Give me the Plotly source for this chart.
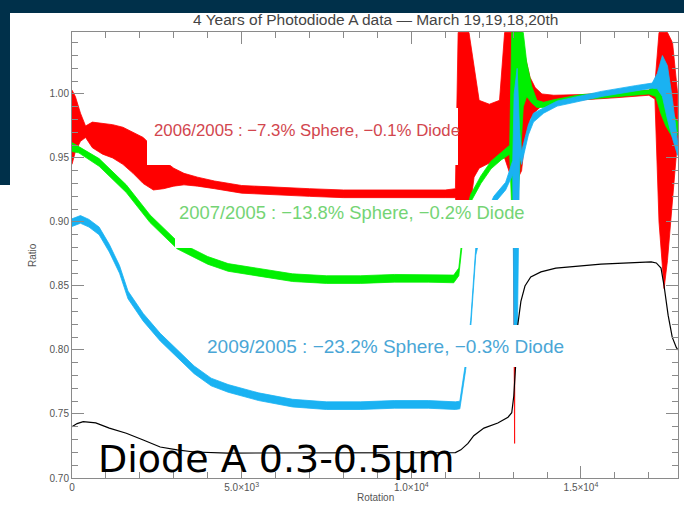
import plotly.graph_objects as go

# ---------------- data ----------------
red_x  = [0, 100, 250, 400, 600, 900, 1200, 1500, 1800, 2100, 2400, 2700, 3000, 3300, 3700, 4200,
          5000, 6000, 7000, 8000, 9000, 10000, 11000, 11300, 11380, 11700, 11850, 12000, 12300,
          12600, 12750, 13000, 13045, 13065, 13250, 13350, 13500, 13650, 13850, 14200, 15000,
          16000, 17000, 17180, 17300, 17450, 17550, 17700, 17850]
red_lo = [0.945, 0.955, 0.963, 0.966, 0.958, 0.953, 0.950, 0.945, 0.938, 0.930, 0.925, 0.926,
          0.928, 0.929, 0.928, 0.926, 0.9225, 0.921, 0.920, 0.919, 0.919, 0.919, 0.919, 0.919,
          0.905, 0.905, 0.935, 0.942, 0.946, 0.950, 0.950, 0.930, 0.727, 0.930, 0.940, 0.965,
          0.980, 0.986, 0.991, 0.994, 0.9955, 0.997, 0.999, 0.996, 0.900, 0.848, 0.870, 0.920, 0.965]
red_hi = [1.003, 0.998, 0.985, 0.975, 0.978, 0.977, 0.976, 0.974, 0.970, 0.966, 0.958, 0.948,
          0.942, 0.938, 0.935, 0.932, 0.9285, 0.927, 0.926, 0.925, 0.925, 0.925, 0.925, 0.926,
          1.048, 1.048, 1.020, 0.995, 0.992, 0.995, 1.048, 1.048, 1.048, 1.048, 1.048, 1.030,
          1.013, 1.005, 1.000, 0.999, 0.9995, 1.001, 1.003, 1.008, 1.048, 1.048, 1.048, 1.040, 1.000]

green_x  = [0, 200, 800, 1600, 2300, 3100, 4000, 4600, 5500, 6500, 7500, 8500, 9500, 10500, 11250,
            11400, 11550, 11750, 12050, 12350, 12650, 12900, 12960, 13150, 13300, 13400, 13550,
            13700, 13900, 14200, 15000, 16000, 17000, 17200, 17350, 17500, 17700, 17850]
green_lo = [0.955, 0.954, 0.9435, 0.923, 0.8995, 0.879, 0.867, 0.8615, 0.8575, 0.8535, 0.852,
            0.852, 0.853, 0.853, 0.8525, 0.858, 0.8945, 0.9155, 0.930, 0.9415, 0.9485, 0.953,
            0.910, 0.920, 0.990, 0.998, 0.993, 0.9895, 0.9895, 0.9915, 0.9955, 0.998, 1.000,
            0.998, 0.985, 0.975, 0.966, 0.968]
green_hi = [0.962, 0.959, 0.9495, 0.929, 0.9055, 0.885, 0.873, 0.8675, 0.8635, 0.8595, 0.858,
            0.858, 0.859, 0.859, 0.8585, 0.864, 0.9005, 0.9215, 0.936, 0.9475, 0.9545, 0.960,
            1.048, 1.048, 1.048, 1.025, 1.006, 0.995, 0.9935, 0.9955, 0.9995, 1.001, 1.003,
            1.006, 1.012, 1.000, 0.985, 0.978]

blue_x  = [0, 250, 500, 800, 1100, 1400, 1650, 2100, 2600, 3100, 3600, 4100, 4600, 5500, 6500,
           7500, 8500, 9500, 10500, 11300, 11430, 11600, 11750, 11900, 12050, 12430, 12780, 12990,
           13030, 13120, 13190, 13250, 13450, 13600, 13900, 14300, 14650, 15600, 16600, 17100,
           17250, 17400, 17550, 17700, 17850]
blue_lo = [0.8965, 0.899, 0.896, 0.890, 0.8765, 0.860, 0.840, 0.8225, 0.807, 0.7945, 0.7815,
           0.772, 0.767, 0.7605, 0.7555, 0.7535, 0.7535, 0.7545, 0.7545, 0.7535, 0.754, 0.784,
           0.817, 0.874, 0.891, 0.914, 0.925, 0.937, 0.800, 0.800, 0.952, 0.945, 0.968, 0.978,
           0.985, 0.9905, 0.9925, 0.998, 1.0025, 1.0045, 1.004, 0.998, 0.980, 0.965, 0.952]
blue_hi = [0.9025, 0.905, 0.902, 0.896, 0.8825, 0.866, 0.846, 0.8285, 0.813, 0.8005, 0.7875,
           0.778, 0.773, 0.7665, 0.7615, 0.7595, 0.7595, 0.7605, 0.7605, 0.7595, 0.760, 0.790,
           0.823, 0.880, 0.897, 0.920, 0.931, 0.948, 1.000, 1.020, 0.972, 0.955, 0.976, 0.985,
           0.989, 0.9945, 0.9965, 1.002, 1.0065, 1.0085, 1.016, 1.030, 1.022, 0.995, 0.962]

diode_x = [0, 150, 330, 700, 1100, 1600, 2100, 2600, 3100, 3600, 4600, 6000, 8000, 10000, 11300,
           11460, 11670, 11840, 12140, 12550, 12850, 12960, 13020, 13080, 13140, 13230, 13350,
           13520, 13820, 14260, 15590, 17070, 17220, 17360, 17450, 17570, 17690, 17810, 17860]
diode_y = [0.740, 0.7425, 0.744, 0.743, 0.739, 0.735, 0.7297, 0.7242, 0.7219, 0.7203, 0.7195,
           0.7195, 0.7195, 0.7197, 0.7198, 0.722, 0.727, 0.733, 0.739, 0.743, 0.7475, 0.751,
           0.764, 0.790, 0.820, 0.838, 0.850, 0.857, 0.861, 0.864, 0.867, 0.8688, 0.868, 0.864,
           0.850, 0.827, 0.810, 0.802, 0.800]

x_tickvals = [0, 5000, 10000, 15000]
x_ticktext = ["0", "5.0×10<sup>3</sup>", "1.0×10<sup>4</sup>", "1.5×10<sup>4</sup>"]

title_text = "4 Years of Photodiode A data — March 19,19,18,20th"
labels = ["2006/2005 : −7.3% Sphere, −0.1% Diode",
          "2007/2005 : −13.8% Sphere, −0.2% Diode",
          "2009/2005 : −23.2% Sphere, −0.3% Diode"]
big_label = "Diode A 0.3-0.5μm"

# ---------------- styling / layout ----------------
W, H = 684, 509
L, R, T, B = 72, 678, 32, 478
XMAX, YMIN, YMAX = 17860, 0.70, 1.0484

def px2x(px): return (px - L) / (R - L) * XMAX
def py2y(py): return YMIN + (B - py) / (B - T) * (YMAX - YMIN)
def px2p(px): return (px - L) / (R - L)
def py2p(py): return (B - py) / (B - T)

RED, GREEN, BLUE = "#ff0000", "#00f000", "#1ab2f2"

fig = go.Figure()

def band(x, lo, hi, color):
    fig.add_trace(go.Scatter(x=list(x) + list(x)[::-1], y=list(hi) + list(lo)[::-1],
                             mode="lines", fill="toself", fillcolor=color,
                             line=dict(color=color, width=0.8), hoverinfo="skip"))

band(red_x, red_lo, red_hi, RED)
band(green_x, green_lo, green_hi, GREEN)
band(blue_x, blue_lo, blue_hi, BLUE)
fig.add_trace(go.Scatter(x=diode_x, y=diode_y, mode="lines",
                         line=dict(color="black", width=1.2)))

axcol = "#8a8a8a"
fig.update_xaxes(range=[0, XMAX], showline=True, linecolor=axcol, linewidth=1, mirror="ticks",
                 ticks="inside", ticklen=12, tickcolor=axcol, tickwidth=1,
                 tickvals=x_tickvals, ticktext=x_ticktext,
                 minor=dict(ticks="inside", ticklen=6, dtick=1000, tick0=0, tickcolor=axcol),
                 showgrid=False, zeroline=False,
                 tickfont=dict(family="Liberation Sans", size=10, color="#555"))
fig.update_yaxes(range=[YMIN, YMAX], showline=True, linecolor=axcol, linewidth=1, mirror="ticks",
                 ticks="inside", ticklen=12, tickcolor=axcol, tickwidth=1,
                 dtick=0.05, tick0=0.70, tickformat=".2f",
                 minor=dict(ticks="inside", ticklen=6, dtick=0.01, tick0=0.70, tickcolor=axcol),
                 showgrid=False, zeroline=False,
                 tickfont=dict(family="Liberation Sans", size=10, color="#555"))

shapes = [
    # slide background pieces
    dict(type="rect", xref="paper", yref="paper", x0=-0.2, x1=1.1, y0=py2p(13), y1=1.2,
         fillcolor="#00304a", line=dict(width=0), layer="below"),
    dict(type="rect", xref="paper", yref="paper", x0=-0.2, x1=px2p(10), y0=py2p(185), y1=1.2,
         fillcolor="#00304a", line=dict(width=0), layer="below"),
    # white label boxes over the curves
    dict(type="rect", xref="x", yref="y", x0=px2x(147), x1=px2x(458), y0=py2y(165), y1=py2y(108),
         fillcolor="white", line=dict(width=0), layer="above"),
    dict(type="rect", xref="x", yref="y", x0=px2x(175), x1=px2x(527), y0=py2y(248), y1=py2y(200),
         fillcolor="white", line=dict(width=0), layer="above"),
    dict(type="rect", xref="x", yref="y", x0=px2x(201), x1=px2x(566), y0=py2y(367), y1=py2y(325),
         fillcolor="white", line=dict(width=0), layer="above"),
]

ann = [
    dict(text=title_text, xref="paper", yref="paper", x=0.5, y=py2p(20), showarrow=False,
         xanchor="center", yanchor="middle", font=dict(family="Liberation Sans", size=15.5, color="#444")),
    dict(text="Rotation", xref="paper", yref="paper", x=0.5, y=py2p(498), showarrow=False,
         xanchor="center", yanchor="middle", font=dict(family="Liberation Sans", size=10, color="#555")),
    dict(text="Ratio", xref="paper", yref="paper", x=px2p(32), y=py2p(255), showarrow=False,
         textangle=-90, xanchor="center", yanchor="middle",
         font=dict(family="Liberation Sans", size=10, color="#555")),
    dict(text=labels[0], xref="paper", yref="paper", x=px2p(152), y=py2p(130), showarrow=False,
         xanchor="left", yanchor="middle", font=dict(family="Liberation Sans", size=16.8, color="#d2464e")),
    dict(text=labels[1], xref="paper", yref="paper", x=px2p(177), y=py2p(213), showarrow=False,
         xanchor="left", yanchor="middle", font=dict(family="Liberation Sans", size=18.4, color="#74d474")),
    dict(text=labels[2], xref="paper", yref="paper", x=px2p(205), y=py2p(346), showarrow=False,
         xanchor="left", yanchor="middle", font=dict(family="Liberation Sans", size=19, color="#4aa6d6")),
    dict(text=big_label, xref="paper", yref="paper", x=px2p(96), y=py2p(459), showarrow=False,
         xanchor="left", yanchor="middle", font=dict(family="DejaVu Sans", size=38, color="black")),
]

fig.update_layout(width=W, height=H, margin=dict(l=L, r=W - R, t=T, b=H - B),
                  paper_bgcolor="white", plot_bgcolor="white", showlegend=False,
                  shapes=shapes, annotations=ann)

fig.write_html("out.html")
